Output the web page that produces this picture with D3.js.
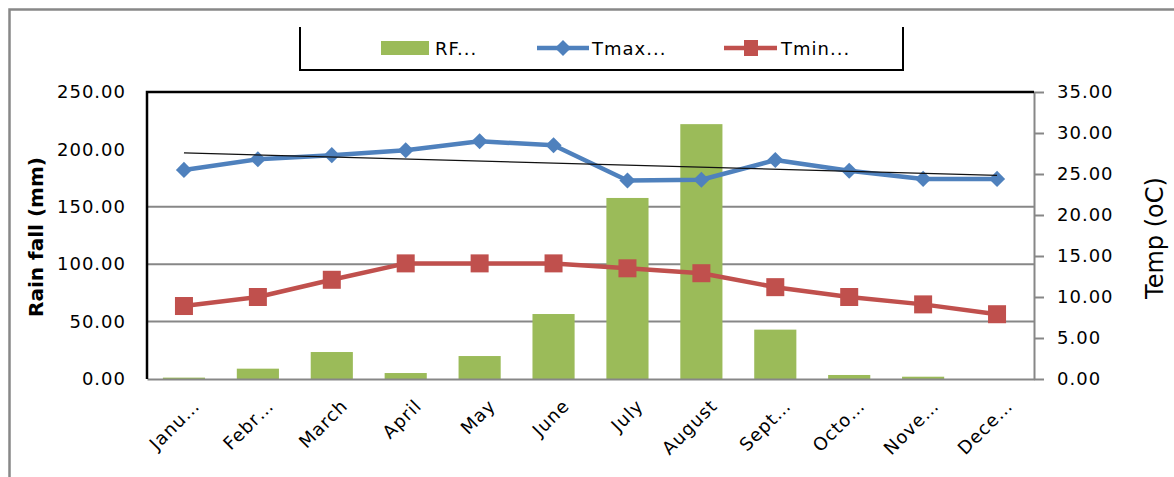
<!DOCTYPE html>
<html>
<head>
<meta charset="utf-8">
<script src="https://cdn.jsdelivr.net/npm/d3@7"></script>
<style>
  body { margin: 0; background: #fff; }
  text { font-family: 'DejaVu Sans', sans-serif; fill: #000; }
</style>
</head>
<body>
<svg id="chart"></svg>
<script>
const months = ['January', 'February', 'March', 'April', 'May', 'June',
    'July', 'August', 'September', 'October', 'November', 'December'];
const monthLabels = ['Janu…', 'Febr…', 'March', 'April', 'May', 'June',
    'July', 'August', 'Sept…', 'Octo…', 'Nove…', 'Dece…'];
const rainfall = [1.2, 9, 23.5, 5.2, 20, 56.6, 157.7, 222, 43, 3.5, 2, 0];
const tmax = [25.5, 26.8, 27.3, 27.9, 29.0, 28.5, 24.2, 24.3, 26.7, 25.4, 24.4, 24.4];
const tmin = [8.9, 10.0, 12.1, 14.1, 14.1, 14.1, 13.5, 12.9, 11.2, 10.0, 9.1, 7.9];
const rainTicks = [0, 50, 100, 150, 200, 250];
const tempTicks = [0, 5, 10, 15, 20, 25, 30, 35];
const gridTicks = [50, 100, 150];
const legendNames = ['RF...', 'Tmax...', 'Tmin...'];

const WIDTH = 1174;
const HEIGHT = 477;
const PLOT = {left: 147, right: 1034, top: 92, bottom: 379};

const GREEN = '#9BBB59';
const BLUE = '#4F81BD';
const RED = '#C0504D';
const GRID = '#878787';

const svg = d3.select('#chart').attr('width', WIDTH).attr('height', HEIGHT);

// outer chart frame (runs off the picture on right and bottom)
svg.append('rect')
    .attr('x', 9.5).attr('y', 9.5)
    .attr('width', 1300).attr('height', 600)
    .attr('fill', 'none')
    .attr('stroke', '#888')
    .attr('stroke-width', 2.5);

const x = d3.scaleBand().domain(months).range([PLOT.left, PLOT.right]).paddingInner(0.43).paddingOuter(0.215);
const yRain = d3.scaleLinear().domain([0, 250]).range([PLOT.bottom, PLOT.top]);
const yTemp = d3.scaleLinear().domain([0, 35]).range([PLOT.bottom, PLOT.top]);
const cx = (m) => x(m) + x.bandwidth() / 2;

// gridlines
svg.append('g')
    .selectAll('line')
    .data(gridTicks)
    .enter()
    .append('line')
    .attr('x1', PLOT.left).attr('x2', PLOT.right)
    .attr('y1', (d) => yRain(d)).attr('y2', (d) => yRain(d))
    .attr('stroke', GRID)
    .attr('stroke-width', 2);

// rainfall bars
svg.append('g')
    .selectAll('rect')
    .data(months)
    .enter()
    .append('rect')
    .attr('x', (m) => x(m))
    .attr('y', (m, i) => yRain(rainfall[i]))
    .attr('width', x.bandwidth())
    .attr('height', (m, i) => PLOT.bottom - yRain(rainfall[i]))
    .attr('fill', GREEN);

// left axis
const leftAxis = svg.append('g')
    .attr('transform', `translate(${PLOT.left}, 0)`)
    .call(d3.axisLeft(yRain).tickValues(rainTicks).tickFormat(d3.format('.2f')).tickSize(0).tickPadding(21));
leftAxis.select('.domain').remove();
leftAxis.selectAll('text').style('font-size', '18px').style('letter-spacing', '1px');

// right axis
const rightAxis = svg.append('g')
    .attr('transform', `translate(${PLOT.right}, 0)`)
    .call(d3.axisRight(yTemp).tickValues(tempTicks).tickFormat(d3.format('.2f')).tickSize(10).tickSizeOuter(0).tickPadding(13));
rightAxis.select('.domain').attr('stroke', GRID).attr('stroke-width', 2);
rightAxis.selectAll('line').attr('stroke', GRID).attr('stroke-width', 2);
rightAxis.selectAll('text').style('font-size', '18px').style('letter-spacing', '1px');

// bottom axis with rotated labels
const bottomAxis = svg.append('g')
    .attr('transform', `translate(0, ${PLOT.bottom})`)
    .call(d3.axisBottom(x).tickSize(0).tickSizeOuter(0).tickFormat((m, i) => monthLabels[i]));
bottomAxis.select('.domain').attr('stroke', GRID).attr('stroke-width', 2);
bottomAxis.selectAll('text')
    .attr('y', 0).attr('dy', 0)
    .attr('transform', 'translate(17, 28) rotate(-45)')
    .style('text-anchor', 'end')
    .style('font-size', '18px')
    .style('letter-spacing', '1px');

// plot frame: black left axis line and top border
svg.append('path')
    .attr('d', `M${PLOT.left},${PLOT.bottom}V${PLOT.top}H${PLOT.right}`)
    .attr('fill', 'none')
    .attr('stroke', '#000')
    .attr('stroke-width', 2.5);

// temperature lines
const tempLine = d3.line()
    .x((d) => cx(d.month))
    .y((d) => yTemp(d.value));

const tmaxData = months.map((m, i) => ({month: m, value: tmax[i]}));
const tminData = months.map((m, i) => ({month: m, value: tmin[i]}));

svg.append('path')
    .datum(tmaxData)
    .attr('d', tempLine)
    .attr('fill', 'none')
    .attr('stroke', BLUE)
    .attr('stroke-width', 4.5)
    .attr('stroke-linejoin', 'round');

svg.append('g')
    .selectAll('path')
    .data(tmaxData)
    .enter()
    .append('path')
    .attr('d', d3.symbol(d3.symbolSquare, 130))
    .attr('transform', (d) => `translate(${cx(d.month)}, ${yTemp(d.value)}) rotate(45)`)
    .attr('fill', BLUE);

svg.append('path')
    .datum(tminData)
    .attr('d', tempLine)
    .attr('fill', 'none')
    .attr('stroke', RED)
    .attr('stroke-width', 4.5)
    .attr('stroke-linejoin', 'round');

svg.append('g')
    .selectAll('rect')
    .data(tminData)
    .enter()
    .append('rect')
    .attr('x', (d) => cx(d.month) - 9)
    .attr('y', (d) => yTemp(d.value) - 9)
    .attr('width', 18)
    .attr('height', 18)
    .attr('fill', RED);

// linear trendline for Tmax
const n = tmax.length;
const xs = d3.range(1, n + 1);
const meanX = d3.mean(xs);
const meanY = d3.mean(tmax);
const slope = d3.sum(xs, (v, i) => (v - meanX) * (tmax[i] - meanY)) / d3.sum(xs, (v) => (v - meanX) ** 2);
const intercept = meanY - slope * meanX;

svg.append('line')
    .attr('x1', cx(months[0]))
    .attr('y1', yTemp(intercept + slope * 1))
    .attr('x2', cx(months[n - 1]))
    .attr('y2', yTemp(intercept + slope * n))
    .attr('stroke', '#111')
    .attr('stroke-width', 1.3);

// axis titles
svg.append('text')
    .attr('transform', 'translate(36, 237) rotate(-90)')
    .attr('text-anchor', 'middle')
    .attr('dominant-baseline', 'central')
    .style('font-size', '20px')
    .style('font-weight', 'bold')
    .text('Rain fall (mm)');

svg.append('text')
    .attr('transform', 'translate(1155, 238) rotate(-90)')
    .attr('text-anchor', 'middle')
    .attr('dominant-baseline', 'central')
    .style('font-size', '24px')
    .text('Temp (oC)');

// legend
const legend = svg.append('g');

legend.append('path')
    .attr('d', 'M300,27V70H903V27')
    .attr('fill', 'none')
    .attr('stroke', '#000')
    .attr('stroke-width', 2);

legend.append('rect')
    .attr('x', 381).attr('y', 41)
    .attr('width', 48).attr('height', 14)
    .attr('fill', GREEN);

legend.append('line')
    .attr('x1', 537).attr('x2', 589)
    .attr('y1', 48).attr('y2', 48)
    .attr('stroke', BLUE).attr('stroke-width', 4.5);
legend.append('path')
    .attr('d', d3.symbol(d3.symbolSquare, 130))
    .attr('transform', 'translate(563, 48) rotate(45)')
    .attr('fill', BLUE);

legend.append('line')
    .attr('x1', 724).attr('x2', 777)
    .attr('y1', 48).attr('y2', 48)
    .attr('stroke', RED).attr('stroke-width', 4.5);
legend.append('rect')
    .attr('x', 744).attr('y', 40)
    .attr('width', 14).attr('height', 16)
    .attr('fill', RED);

legend.selectAll('.legend-label')
    .data(legendNames)
    .enter()
    .append('text')
    .classed('legend-label', true)
    .attr('x', (d, i) => [435, 592, 781][i])
    .attr('y', 55)
    .style('font-size', '18px')
    .style('letter-spacing', '1px')
    .text((d) => d);
</script>
</body>
</html>
